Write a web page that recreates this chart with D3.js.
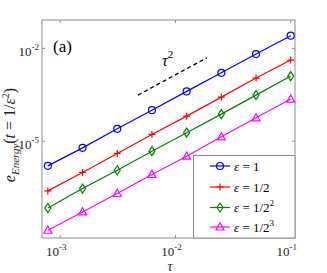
<!DOCTYPE html>
<html>
<head>
<meta charset="utf-8">
<script src="https://cdn.jsdelivr.net/npm/d3@7"></script>
<style>
  body { margin: 0; background: #fff; }
</style>
</head>
<body>
<div id="chart"></div>
<script>
const width = 327, height = 273;

// step sizes tau (halving)
const taus = [0.1 / 128, 0.1 / 64, 0.1 / 32, 0.1 / 16, 0.1 / 8, 0.1 / 4, 0.1 / 2, 0.1];
// energy errors (smallest tau first)
const errEps1 = [1.59e-6, 6.07e-6, 2.50e-5, 1.00e-4, 4.06e-4, 1.62e-3, 6.55e-3, 2.56e-2];
const errEps2 = [2.47e-7, 9.7e-7, 4.0e-6, 1.65e-5, 6.44e-5, 2.65e-4, 1.094e-3, 4.18e-3];
const errEps4 = [6.93e-8, 2.94e-7, 1.15e-6, 4.74e-6, 1.88e-5, 7.48e-5, 3.08e-4, 1.27e-3];
const errEps8 = [1.32e-8, 5.15e-8, 2.03e-7, 8.36e-7, 3.27e-6, 1.38e-5, 5.68e-5, 2.29e-4];
const seriesNames = ["1", "1/2", "1/2", "1/2"];
const seriesPowers = ["", "", "2", "3"];
const seriesColors = ["#0000ff", "#ff0000", "#008000", "#ff00ff"];
const seriesMarkers = ["circle", "plus", "diamond", "triangle"];
// reference slope line tau^2
const refTau = [4.73e-3, 1.875e-2];
const refErr = [3.08e-4, 4.97e-3];
const xTicks = [1e-3, 1e-2, 1e-1];
const xTickExp = ["-3", "-2", "-1"];
const yTicks = [1e-2, 1e-5];
const yTickExp = ["-2", "-5"];

const series = [errEps1, errEps2, errEps4, errEps8].map((vals, i) => ({
  name: seriesNames[i], pow: seriesPowers[i], color: seriesColors[i], marker: seriesMarkers[i],
  points: taus.map((t, j) => [t, vals[j]])
}));

const plotL = 42, plotR = 295, plotT = 20, plotB = 238;
const serif = "'Liberation Serif', 'Times New Roman', 'DejaVu Serif', serif";

const x = d3.scaleLog().domain([Math.pow(10, -3.158), Math.pow(10, -0.963)]).range([plotL, plotR]);
const y = d3.scaleLog().domain([Math.pow(10, -8.13), Math.pow(10, -1.084)]).range([plotB, plotT]);

const svg = d3.select("#chart").append("svg")
  .attr("width", width)
  .attr("height", height)
  .style("font-family", serif);

const axisColor = "#8c8c8c";

// frame
svg.append("rect")
  .attr("x", plotL).attr("y", plotT)
  .attr("width", plotR - plotL).attr("height", plotB - plotT)
  .attr("fill", "none").attr("stroke", axisColor).attr("stroke-width", 1);

// ticks inward on all sides
xTicks.forEach((t, i) => {
  const px = x(t);
  svg.append("line").attr("x1", px).attr("x2", px).attr("y1", plotB).attr("y2", plotB - 3)
    .attr("stroke", axisColor);
  svg.append("line").attr("x1", px).attr("x2", px).attr("y1", plotT).attr("y2", plotT + 3)
    .attr("stroke", axisColor);
  const lbl = svg.append("text")
    .attr("x", px - 4).attr("y", 256)
    .attr("text-anchor", "middle")
    .attr("font-size", 13)
    .attr("fill", "#262626");
  lbl.append("tspan").text("10");
  lbl.append("tspan").attr("dy", -6).attr("font-size", 9).text(xTickExp[i]);
});

yTicks.forEach((t, i) => {
  const py = y(t);
  svg.append("line").attr("x1", plotL).attr("x2", plotL + 3).attr("y1", py).attr("y2", py)
    .attr("stroke", axisColor);
  svg.append("line").attr("x1", plotR).attr("x2", plotR - 3).attr("y1", py).attr("y2", py)
    .attr("stroke", axisColor);
  const lbl = svg.append("text")
    .attr("x", 39).attr("y", py + 8)
    .attr("text-anchor", "end")
    .attr("font-size", 13)
    .attr("fill", "#262626");
  lbl.append("tspan").text("10");
  lbl.append("tspan").attr("dy", -6).attr("font-size", 9).text(yTickExp[i]);
});

// axis labels
svg.append("text")
  .attr("x", 170).attr("y", 271)
  .attr("text-anchor", "middle")
  .attr("font-size", 14).attr("font-style", "italic")
  .attr("fill", "#262626")
  .text("τ");

const ylab = svg.append("text")
  .attr("transform", `translate(15, ${(plotT + plotB) / 2 + 6}) rotate(-90)`)
  .attr("text-anchor", "middle")
  .attr("font-size", 16)
  .attr("fill", "#262626");
ylab.append("tspan").attr("font-style", "italic").text("e");
ylab.append("tspan").attr("font-style", "italic").attr("font-size", 11).attr("dy", 4).text("Energy");
ylab.append("tspan").attr("dy", -4).text("(");
ylab.append("tspan").attr("font-style", "italic").text("t");
ylab.append("tspan").text(" = 1/");
ylab.append("tspan").attr("font-style", "italic").text("ε");
ylab.append("tspan").attr("font-size", 10).attr("dy", -6).text("2");
ylab.append("tspan").attr("dy", 6).text(")");

// panel tag
svg.append("text")
  .attr("x", 53).attr("y", 52)
  .attr("font-size", 17)
  .attr("fill", "#000")
  .text("(a)");

// reference slope
svg.append("line")
  .attr("x1", x(refTau[0])).attr("y1", y(refErr[0]))
  .attr("x2", x(refTau[1])).attr("y2", y(refErr[1]))
  .attr("stroke", "#000").attr("stroke-width", 1.3)
  .attr("stroke-dasharray", "4,3");

const refLbl = svg.append("text")
  .attr("x", 162).attr("y", 66)
  .attr("font-size", 16)
  .attr("fill", "#000");
refLbl.append("tspan").attr("font-style", "italic").text("τ");
refLbl.append("tspan").attr("font-size", 11).attr("dy", -8).text("2");

function drawMarker(g, type, cx, cy, color) {
  if (type === "circle") {
    g.append("circle").attr("cx", cx).attr("cy", cy).attr("r", 3.5)
      .attr("fill", "none").attr("stroke", color).attr("stroke-width", 1.2);
  } else if (type === "plus") {
    g.append("path").attr("d", `M${cx - 3.5},${cy}H${cx + 3.5}M${cx},${cy - 3.5}V${cy + 3.5}`)
      .attr("stroke", color).attr("stroke-width", 1.2);
  } else if (type === "diamond") {
    g.append("path").attr("d", `M${cx},${cy - 4.5}L${cx + 3},${cy}L${cx},${cy + 4.5}L${cx - 3},${cy}Z`)
      .attr("fill", "none").attr("stroke", color).attr("stroke-width", 1.2);
  } else {
    g.append("path").attr("d", `M${cx},${cy - 4.2}L${cx + 4},${cy + 3}L${cx - 4},${cy + 3}Z`)
      .attr("fill", "none").attr("stroke", color).attr("stroke-width", 1.2);
  }
}

const line = d3.line().x(d => x(d[0])).y(d => y(d[1]));

series.forEach(s => {
  const g = svg.append("g");
  g.append("path").datum(s.points)
    .attr("d", line)
    .attr("fill", "none").attr("stroke", s.color).attr("stroke-width", 1.2);
  s.points.forEach(p => drawMarker(g, s.marker, x(p[0]), y(p[1]), s.color));
});

// legend
const lg = svg.append("g");
lg.append("rect")
  .attr("x", 193.5).attr("y", 155.5)
  .attr("width", plotR - 193.5).attr("height", plotB - 155.5)
  .attr("fill", "#fff").attr("stroke", axisColor);
const legendY = [166, 187, 207.5, 227];
series.forEach((s, i) => {
  const ly = legendY[i];
  lg.append("line").attr("x1", 210).attr("x2", 230).attr("y1", ly).attr("y2", ly)
    .attr("stroke", s.color).attr("stroke-width", 1.2);
  drawMarker(lg, s.marker, 220, ly, s.color);
  const t = lg.append("text").attr("x", 234).attr("y", ly + 4.5)
    .attr("font-size", 13).attr("fill", "#000");
  t.append("tspan").attr("font-style", "italic").text("ε");
  t.append("tspan").text(" = " + s.name);
  if (s.pow) t.append("tspan").attr("font-size", 9).attr("dy", -6).text(s.pow);
});
</script>
</body>
</html>
